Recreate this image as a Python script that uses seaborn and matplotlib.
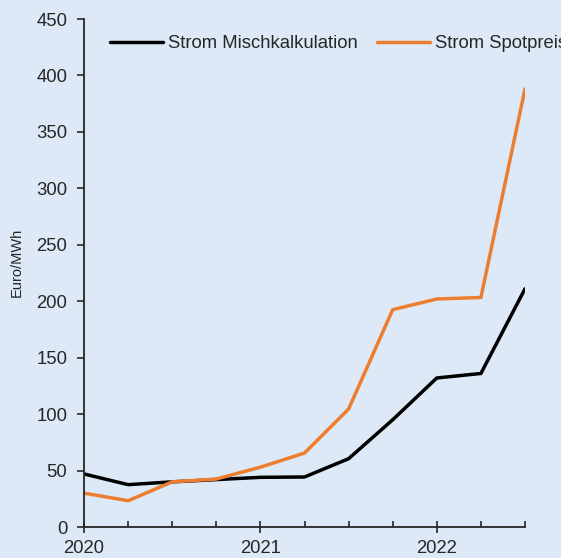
import pandas as pd
import matplotlib.pyplot as plt
import seaborn as sns
from matplotlib.ticker import MultipleLocator

quarters = [2020.0, 2020.25, 2020.5, 2020.75, 2021.0, 2021.25, 2021.5, 2021.75, 2022.0, 2022.25, 2022.5]
misch = [47, 37.5, 40, 42, 44, 44.3, 60.5, 95, 132, 136, 211]
spot = [30, 23.3, 40, 42.5, 53, 65.5, 104.5, 192.5, 202, 203.3, 388]
series_names = ["Strom Mischkalkulation", "Strom Spotpreis"]
year_ticks = [2020, 2021, 2022]

data = pd.DataFrame({
    "Quartal": quarters * 2,
    "Wert": misch + spot,
    "Serie": [series_names[0]] * len(quarters) + [series_names[1]] * len(quarters),
})

bg = "#dde9f7"
sns.set_style("ticks")
plt.rcParams["font.family"] = ["Liberation Sans", "DejaVu Sans"]
fs = 13.3

fig = plt.figure(figsize=(5.61, 5.58), dpi=100, facecolor=bg)
ax = fig.add_axes([84 / 561, 31 / 558, 441 / 561, 508 / 558])
ax.set_facecolor(bg)

sns.lineplot(data=data, x="Quartal", y="Wert", hue="Serie",
             palette=["#000000", "#ed7d31"], linewidth=2.5, ax=ax)

ax.set_xlim(2020, 2022.5)
ax.set_ylim(0, 450)
ax.yaxis.set_major_locator(MultipleLocator(50))
ax.set_xticks(year_ticks)
ax.set_xticklabels([str(y) for y in year_ticks])
ax.xaxis.set_minor_locator(MultipleLocator(0.25))
ax.tick_params(axis="x", which="major", direction="inout", length=9, width=1.2, labelsize=fs, pad=5)
ax.tick_params(axis="x", which="minor", direction="in", length=4, width=1.2)
ax.tick_params(axis="y", direction="out", length=5, width=1.2, labelsize=fs, pad=7)
for s in ["top", "right"]:
    ax.spines[s].set_visible(False)
for s in ["left", "bottom"]:
    ax.spines[s].set_linewidth(1.3)

ax.set_xlabel("")
ax.set_ylabel("Euro/MWh", fontsize=10.5)
ax.yaxis.set_label_coords(-0.136, 0.52)

handles, labels = ax.get_legend_handles_labels()
ax.legend(handles, labels, ncol=2, frameon=False, fontsize=fs,
          loc="center left", bbox_to_anchor=(110 / 561, 1 - 44 / 558),
          bbox_transform=fig.transFigure, borderpad=0, borderaxespad=0,
          handlelength=2.87, handletextpad=0.27, columnspacing=1.03)

fig.savefig("out.png", dpi=100, facecolor=bg)
